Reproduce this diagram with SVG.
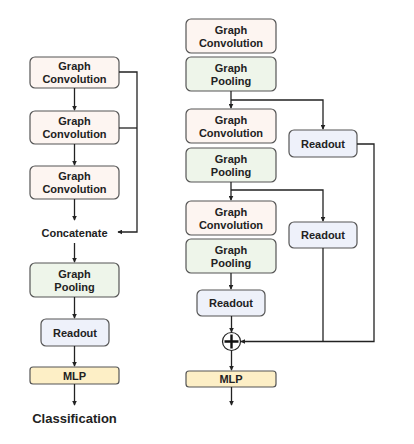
<svg xmlns="http://www.w3.org/2000/svg" width="414" height="444" viewBox="0 0 414 444">
<defs>
<marker id="ah" viewBox="0 0 8 8" refX="7" refY="4" markerWidth="5" markerHeight="5" orient="auto" markerUnits="userSpaceOnUse">
<path d="M0,0 L8,4 L0,8 Z" fill="#222"/>
</marker>
<style>
.b{stroke:#555;stroke-width:1.2}
.conv{fill:#fdf5f1}
.pool{fill:#eef5ea}
.read{fill:#eef1fa}
.mlp{fill:#fdefc6}
text{font-family:"Liberation Sans",Arial,sans-serif;font-weight:bold;font-size:11px;fill:#222;text-anchor:middle}
.c{fill:none;stroke:#222;stroke-width:1.3}
</style>
</defs>
<rect width="414" height="444" fill="#fff"/>
<g id="l-conv1"><rect class="b conv" x="30" y="57" width="89" height="31" rx="5"/><text x="74.5" y="70">Graph</text><text x="74.5" y="83">Convolution</text></g>
<g id="l-conv2"><rect class="b conv" x="30" y="111" width="89" height="33" rx="5"/><text x="74.5" y="125">Graph</text><text x="74.5" y="138">Convolution</text></g>
<g id="l-conv3"><rect class="b conv" x="30" y="166" width="89" height="33" rx="5"/><text x="74.5" y="180">Graph</text><text x="74.5" y="193">Convolution</text></g>
<g id="l-concat"><text x="74.5" y="237">Concatenate</text></g>
<g id="l-pool"><rect class="b pool" x="30" y="263" width="89" height="34" rx="5"/><text x="74.5" y="278">Graph</text><text x="74.5" y="291">Pooling</text></g>
<g id="l-read"><rect class="b read" x="41" y="319" width="68" height="27" rx="5"/><text x="75" y="336.5">Readout</text></g>
<g id="l-mlp"><rect class="b mlp" x="30" y="367" width="89" height="17" rx="3"/><text x="74.5" y="379.5">MLP</text></g>
<g id="l-class"><text x="74.5" y="423" style="font-size:13px">Classification</text></g>

<g id="r-conv1"><rect class="b conv" x="186" y="19" width="90" height="34" rx="5"/><text x="231" y="34">Graph</text><text x="231" y="47">Convolution</text></g>
<g id="r-pool1"><rect class="b pool" x="186" y="57" width="90" height="34" rx="5"/><text x="231" y="72">Graph</text><text x="231" y="85">Pooling</text></g>
<g id="r-conv2"><rect class="b conv" x="186" y="109" width="90" height="34" rx="5"/><text x="231" y="124">Graph</text><text x="231" y="137">Convolution</text></g>
<g id="r-pool2"><rect class="b pool" x="186" y="148" width="90" height="34" rx="5"/><text x="231" y="163">Graph</text><text x="231" y="176">Pooling</text></g>
<g id="r-conv3"><rect class="b conv" x="186" y="201" width="90" height="34" rx="5"/><text x="231" y="216">Graph</text><text x="231" y="229">Convolution</text></g>
<g id="r-pool3"><rect class="b pool" x="186" y="239" width="90" height="34" rx="5"/><text x="231" y="254">Graph</text><text x="231" y="267">Pooling</text></g>
<g id="r-read1"><rect class="b read" x="289" y="130" width="68" height="27" rx="5"/><text x="323" y="147.5">Readout</text></g>
<g id="r-read2"><rect class="b read" x="289" y="222" width="68" height="26" rx="5"/><text x="323" y="239">Readout</text></g>
<g id="r-read3"><rect class="b read" x="197" y="290" width="68" height="26" rx="5"/><text x="231" y="307">Readout</text></g>
<g id="r-sum"><circle cx="231.5" cy="341.5" r="9" fill="#fff" stroke="#222" stroke-width="1.2"/><path d="M231.5,334.5 V348.5 M224.5,341.5 H238.5" stroke="#111" stroke-width="2.4"/></g>
<g id="r-mlp"><rect class="b mlp" x="186" y="371" width="90" height="16" rx="3"/><text x="231" y="383">MLP</text></g>

<g id="connectors">
<path class="c" d="M74.5,88 V110" marker-end="url(#ah)"/>
<path class="c" d="M74.5,144 V165" marker-end="url(#ah)"/>
<path class="c" d="M74.5,199 V220" marker-end="url(#ah)"/>
<path class="c" d="M119,72 H137 V232 H118" marker-end="url(#ah)"/>
<path class="c" d="M119,128 H137"/>
<path class="c" d="M74.5,243 V262" marker-end="url(#ah)"/>
<path class="c" d="M74.5,297 V318" marker-end="url(#ah)"/>
<path class="c" d="M74.5,346 V366" marker-end="url(#ah)"/>
<path class="c" d="M74.5,384 V405" marker-end="url(#ah)"/>

<path class="c" d="M231,91 V108" marker-end="url(#ah)"/>
<path class="c" d="M231,100 H323 V129" marker-end="url(#ah)"/>
<path class="c" d="M231,182 V200" marker-end="url(#ah)"/>
<path class="c" d="M231,190 H323 V221" marker-end="url(#ah)"/>
<path class="c" d="M231,273 V289" marker-end="url(#ah)"/>
<path class="c" d="M231.5,316 V332" marker-end="url(#ah)"/>
<path class="c" d="M357,144 H374 V341.5 H241" marker-end="url(#ah)"/>
<path class="c" d="M323,248 V341.5"/>
<path class="c" d="M231.5,350.5 V370" marker-end="url(#ah)"/>
<path class="c" d="M231.5,387 V405" marker-end="url(#ah)"/>
</g>
</svg>
